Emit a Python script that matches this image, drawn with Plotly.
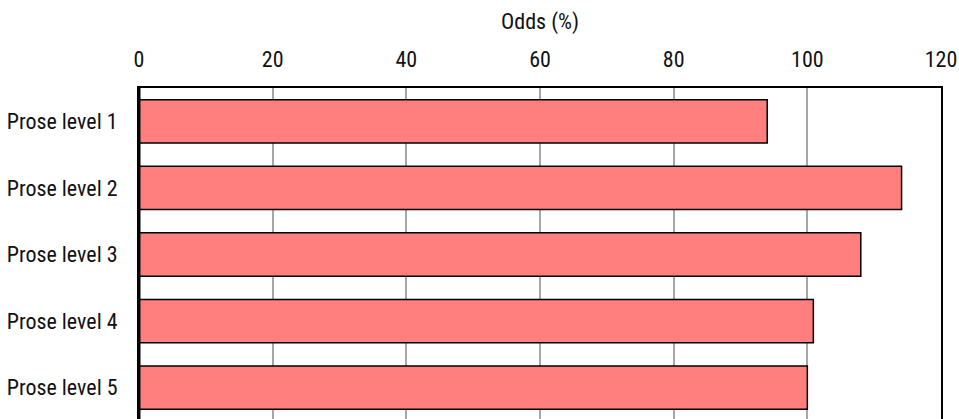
import plotly.graph_objects as go

categories = ["Prose level 1", "Prose level 2", "Prose level 3", "Prose level 4", "Prose level 5"]
odds = [94.0, 114.1, 108.0, 100.9, 100.0]
x_ticks = [0, 20, 40, 60, 80, 100, 120]

FONT = "Roboto Condensed, Liberation Sans Narrow, DejaVu Sans Condensed, sans-serif"

fig = go.Figure(go.Bar(
    y=categories, x=odds, orientation="h",
    marker=dict(color="#FF7F7F", line=dict(color="black", width=1.5)),
    width=0.65,
))

fig.update_layout(
    width=959, height=419,
    margin=dict(l=139, r=18, t=88, b=0),
    paper_bgcolor="white", plot_bgcolor="white",
    font=dict(family=FONT, size=22, color="#111111", weight=400),
    showlegend=False,
)
fig.update_xaxes(
    side="top", range=[0, 120], tickvals=x_ticks, ticktext=[str(v) for v in x_ticks],
    showgrid=True, gridcolor="#a6a6a6", gridwidth=1.5,
    showline=True, linecolor="black", linewidth=2,
    ticks="", ticklabelstandoff=10, zeroline=False,
    title=dict(text="Odds (%)", standoff=12, font=dict(size=22, weight=400)),
)
fig.update_yaxes(
    categoryorder="array", categoryarray=categories,
    range=[4.47, -0.5], autorange=False,
    showgrid=False, zeroline=False,
    showline=True, linecolor="black", linewidth=2, mirror=True,
    ticks="", ticklabelstandoff=15,
)
fig.add_shape(type="line", xref="paper", yref="paper", x0=0, x1=0, y0=0, y1=1,
              line=dict(color="black", width=3))

fig.write_html("out.html", config={"displayModeBar": False},
               post_script="document.body.style.margin='0';")
